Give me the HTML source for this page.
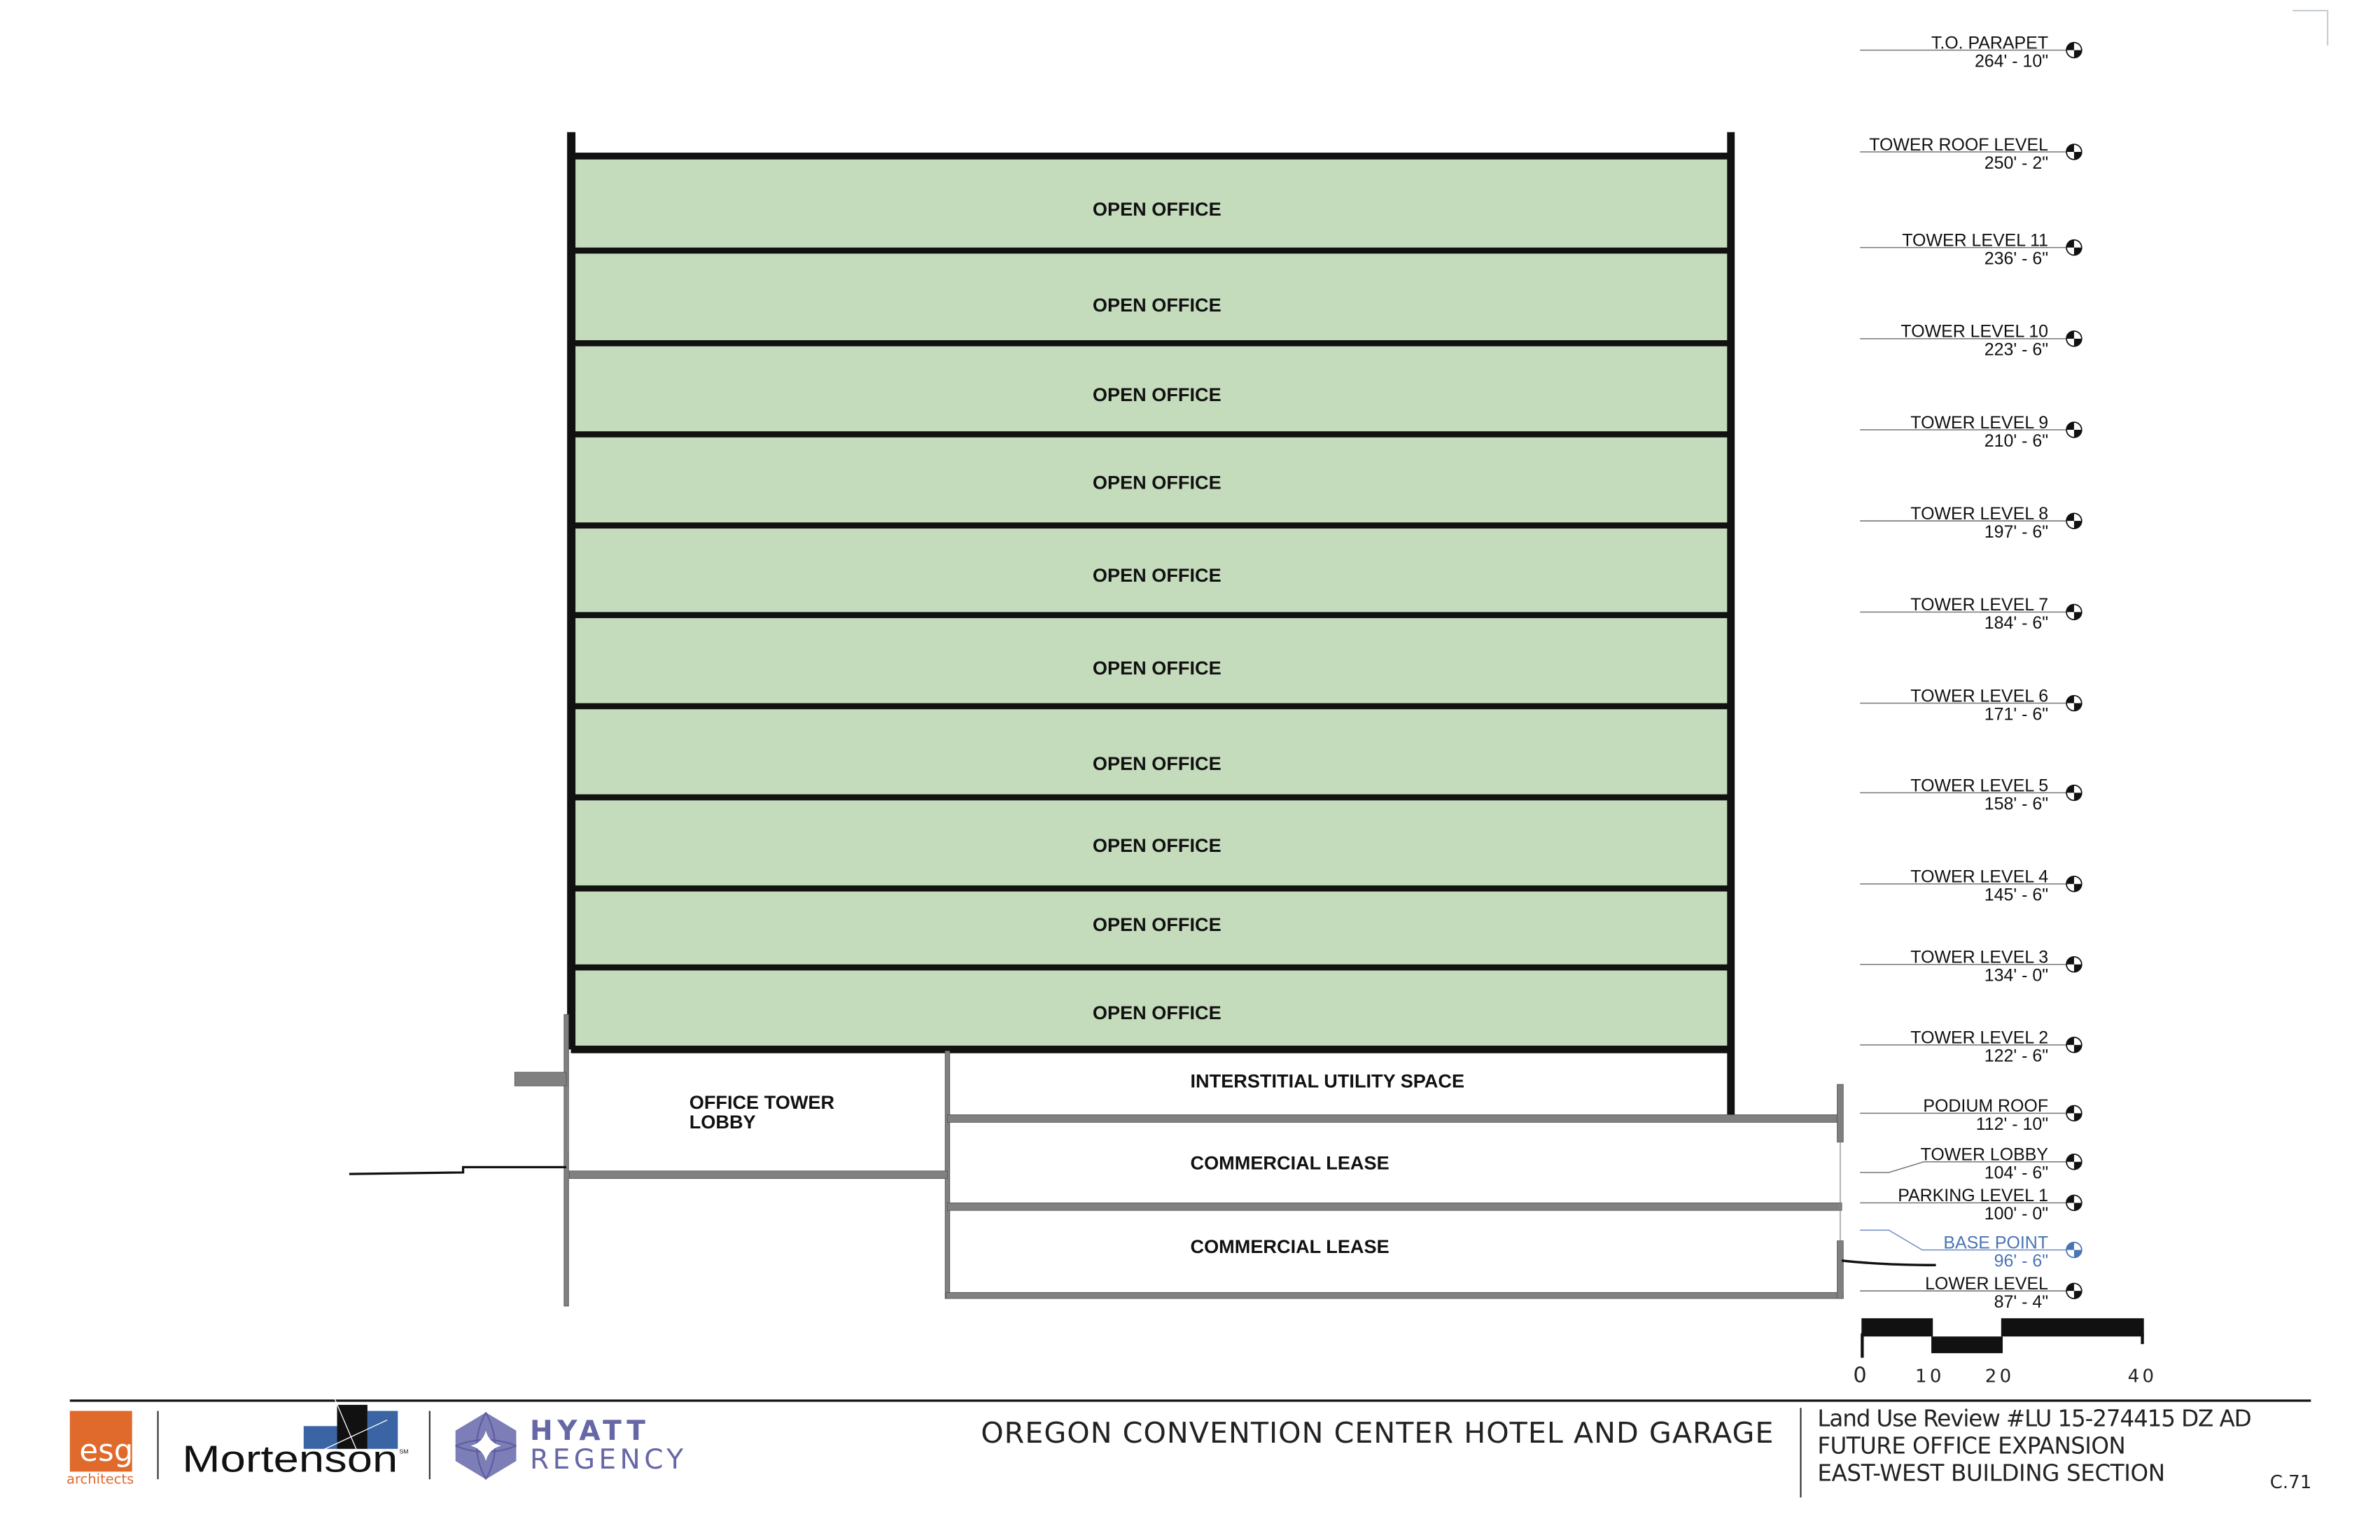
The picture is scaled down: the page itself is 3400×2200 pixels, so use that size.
<!DOCTYPE html>
<html><head><meta charset="utf-8"><style>
html,body{margin:0;padding:0;background:#fff;}
svg{display:block;}
.lbl{font-family:"Liberation Sans Narrow","Liberation Sans",sans-serif;font-weight:bold;font-size:12.5px;fill:#111;}
.lv{font-family:"Liberation Sans Narrow","Liberation Sans",sans-serif;font-size:11.5px;fill:#111;text-anchor:end;}
.tb{font-family:"DejaVu Sans","Liberation Sans",sans-serif;fill:#222;}
</style></head><body>
<svg width="3400" height="2200" viewBox="0 0 1567.5 1014" preserveAspectRatio="none" xmlns="http://www.w3.org/2000/svg">
<rect x="0" y="0" width="1567.5" height="1014" fill="#fff"/>
<path d="M1510 7 H1533 V30" fill="none" stroke="#c8ccd4" stroke-width="1"/>

<rect x="378" y="103" width="762" height="587" fill="#c5dcbc"/>
<g fill="#111">
<rect x="373.5" y="87" width="5.5" height="604"/>
<rect x="1137.5" y="87" width="5" height="648"/>
<rect x="376" y="100.5" width="765" height="4.5"/>
<rect x="376" y="163" width="765" height="4"/>
<rect x="376" y="224" width="765" height="4"/>
<rect x="376" y="284" width="765" height="4"/>
<rect x="376" y="344" width="765" height="4"/>
<rect x="376" y="403" width="765" height="4"/>
<rect x="376" y="463" width="765" height="4"/>
<rect x="376" y="523" width="765" height="4"/>
<rect x="376" y="583" width="765" height="4"/>
<rect x="376" y="635" width="765" height="4"/>
<rect x="376" y="688.5" width="765" height="5"/>
</g>
<g class="lbl" text-anchor="middle">
<text x="762" y="142">OPEN OFFICE</text>
<text x="762" y="205">OPEN OFFICE</text>
<text x="762" y="264">OPEN OFFICE</text>
<text x="762" y="322">OPEN OFFICE</text>
<text x="762" y="383">OPEN OFFICE</text>
<text x="762" y="444">OPEN OFFICE</text>
<text x="762" y="507">OPEN OFFICE</text>
<text x="762" y="561">OPEN OFFICE</text>
<text x="762" y="613">OPEN OFFICE</text>
<text x="762" y="671">OPEN OFFICE</text>
</g>

<g fill="#808080" stroke="#555" stroke-width="0.4">
<rect x="371.5" y="668" width="3" height="192"/>
<rect x="339" y="706" width="34" height="9"/>
<rect x="622.5" y="692" width="3" height="163"/>
<rect x="624" y="734" width="589" height="5"/>
<rect x="624" y="792" width="589" height="5"/>
<rect x="623" y="851" width="591" height="4"/>
<rect x="375" y="771" width="249" height="5"/>
<rect x="1210" y="714" width="4" height="38"/>
<rect x="1210" y="817" width="4" height="38"/>
</g>
<line x1="1212" y1="752" x2="1212" y2="817" stroke="#888" stroke-width="0.6"/>
<line x1="374" y1="715" x2="374" y2="760" stroke="#888" stroke-width="0.6"/>
<path d="M230 773 L305 772 L305 768.5 L373 768.5" fill="none" stroke="#111" stroke-width="1.5"/>
<path d="M1213 830 Q1240 833 1275 833" fill="none" stroke="#111" stroke-width="1.6"/>

<g class="lbl">
<text x="454" y="730">OFFICE TOWER</text>
<text x="454" y="743">LOBBY</text>
<text x="784" y="716">INTERSTITIAL UTILITY SPACE</text>
<text x="784" y="770">COMMERCIAL LEASE</text>
<text x="784" y="825">COMMERCIAL LEASE</text>
</g>

<defs>
<g id="mk">
<circle cx="0" cy="0" r="5" fill="#fff" stroke="#111" stroke-width="0.8"/>
<path d="M0 0 L0 -5 A5 5 0 0 0 -5 0 Z" fill="#111"/>
<path d="M0 0 L0 5 A5 5 0 0 0 5 0 Z" fill="#111"/>
</g>
<g id="mkb">
<circle cx="0" cy="0" r="5" fill="#fff" stroke="#4a74b4" stroke-width="0.8"/>
<path d="M0 0 L0 -5 A5 5 0 0 0 -5 0 Z" fill="#4a74b4"/>
<path d="M0 0 L0 5 A5 5 0 0 0 5 0 Z" fill="#4a74b4"/>
</g>
</defs>
<g stroke="#777" stroke-width="0.7" fill="none">
<line x1="1225" y1="33" x2="1361" y2="33"/>
<line x1="1225" y1="100" x2="1361" y2="100"/>
<line x1="1225" y1="163" x2="1361" y2="163"/>
<line x1="1225" y1="223" x2="1361" y2="223"/>
<line x1="1225" y1="283" x2="1361" y2="283"/>
<line x1="1225" y1="343" x2="1361" y2="343"/>
<line x1="1225" y1="403" x2="1361" y2="403"/>
<line x1="1225" y1="463" x2="1361" y2="463"/>
<line x1="1225" y1="522" x2="1361" y2="522"/>
<line x1="1225" y1="582" x2="1361" y2="582"/>
<line x1="1225" y1="635" x2="1361" y2="635"/>
<line x1="1225" y1="688" x2="1361" y2="688"/>
<line x1="1225" y1="733" x2="1361" y2="733"/>
<path d="M1225 772 L1244 772 L1267 765 L1361 765"/>
<line x1="1225" y1="792" x2="1361" y2="792"/>
<line x1="1225" y1="850" x2="1361" y2="850"/>
</g>
<path d="M1225 810 L1244 810 L1266 823 L1361 823" fill="none" stroke="#6d8fc4" stroke-width="0.7"/>
<g>
<use href="#mk" x="1366" y="33"/><use href="#mk" x="1366" y="100"/><use href="#mk" x="1366" y="163"/>
<use href="#mk" x="1366" y="223"/><use href="#mk" x="1366" y="283"/><use href="#mk" x="1366" y="343"/>
<use href="#mk" x="1366" y="403"/><use href="#mk" x="1366" y="463"/><use href="#mk" x="1366" y="522"/>
<use href="#mk" x="1366" y="582"/><use href="#mk" x="1366" y="635"/><use href="#mk" x="1366" y="688"/>
<use href="#mk" x="1366" y="733"/><use href="#mk" x="1366" y="765"/><use href="#mk" x="1366" y="792"/>
<use href="#mkb" x="1366" y="823"/><use href="#mk" x="1366" y="850"/>
</g>
<g class="lv">
<text x="1349" y="32">T.O. PARAPET</text><text x="1349" y="44">264' - 10"</text>
<text x="1349" y="99">TOWER ROOF LEVEL</text><text x="1349" y="111">250' - 2"</text>
<text x="1349" y="162">TOWER LEVEL 11</text><text x="1349" y="174">236' - 6"</text>
<text x="1349" y="222">TOWER LEVEL 10</text><text x="1349" y="234">223' - 6"</text>
<text x="1349" y="282">TOWER LEVEL 9</text><text x="1349" y="294">210' - 6"</text>
<text x="1349" y="342">TOWER LEVEL 8</text><text x="1349" y="354">197' - 6"</text>
<text x="1349" y="402">TOWER LEVEL 7</text><text x="1349" y="414">184' - 6"</text>
<text x="1349" y="462">TOWER LEVEL 6</text><text x="1349" y="474">171' - 6"</text>
<text x="1349" y="521">TOWER LEVEL 5</text><text x="1349" y="533">158' - 6"</text>
<text x="1349" y="581">TOWER LEVEL 4</text><text x="1349" y="593">145' - 6"</text>
<text x="1349" y="634">TOWER LEVEL 3</text><text x="1349" y="646">134' - 0"</text>
<text x="1349" y="687">TOWER LEVEL 2</text><text x="1349" y="699">122' - 6"</text>
<text x="1349" y="732">PODIUM ROOF</text><text x="1349" y="744">112' - 10"</text>
<text x="1349" y="764">TOWER LOBBY</text><text x="1349" y="776">104' - 6"</text>
<text x="1349" y="791">PARKING LEVEL 1</text><text x="1349" y="803">100' - 0"</text>
<text x="1349" y="822" style="fill:#4a74b4">BASE POINT</text><text x="1349" y="834" style="fill:#4a74b4">96' - 6"</text>
<text x="1349" y="849">LOWER LEVEL</text><text x="1349" y="861">87' - 4"</text>
</g>

<g fill="#111">
<rect x="1226" y="868" width="47" height="12"/>
<rect x="1272" y="880" width="47" height="11"/>
<rect x="1318" y="868" width="94" height="12"/>
<rect x="1225.5" y="878" width="2" height="16"/>
<rect x="1410" y="878" width="2" height="7"/>
</g>
<g class="tb" font-size="12" text-anchor="middle" letter-spacing="2">
<text x="1225" y="910" font-size="14" letter-spacing="0">0</text>
<text x="1271" y="910">10</text>
<text x="1317" y="910">20</text>
<text x="1411" y="910">40</text>
</g>

<rect x="46" y="921.5" width="1476" height="1.5" fill="#111"/>
<rect x="46" y="929" width="41" height="40" fill="#e06a2b"/>
<text x="70" y="962" class="tb" font-size="20" style="fill:#fff" text-anchor="middle">esg</text>
<text x="66" y="977" class="tb" font-size="9" style="fill:#e06a2b" text-anchor="middle">architects</text>
<rect x="103.5" y="929" width="1" height="45" fill="#333"/>
<rect x="200" y="939" width="22" height="15" fill="#3a64a4"/>
<rect x="222" y="925" width="20" height="29" fill="#111"/>
<rect x="242" y="929" width="20" height="25" fill="#3a64a4"/>
<path d="M212 955 L255 935 M220 920 L235 955" stroke="#fff" stroke-width="0.6"/>
<text x="120" y="969" font-size="25" font-family="Liberation Sans,sans-serif" fill="#111" textLength="142" lengthAdjust="spacingAndGlyphs">Mortenson</text>
<text x="263" y="957" font-size="4" font-family="Liberation Sans" fill="#111">SM</text>
<rect x="282.5" y="929" width="1" height="45" fill="#333"/>
<polygon points="320,930 340,942 340,962 320,974 300,962 300,942" fill="#7d7db7"/>
<path d="M320 930 Q308 952 320 974 M320 930 Q332 952 320 974 M300 952 Q320 944 340 952 M300 952 Q320 960 340 952" fill="none" stroke="#5d5ea0" stroke-width="1"/>
<path d="M320 942 Q322 950 330 952 Q322 954 320 962 Q318 954 310 952 Q318 950 320 942 Z" fill="#fff"/>
<text x="349" y="948" font-family="DejaVu Sans,Liberation Sans,sans-serif" font-size="18" font-weight="bold" fill="#6667a5" textLength="76">HYATT</text>
<text x="349" y="967" font-family="DejaVu Sans,Liberation Sans,sans-serif" font-size="18" fill="#6667a5" textLength="101">REGENCY</text>
<text x="646" y="950" class="tb" font-size="19" textLength="522">OREGON CONVENTION CENTER HOTEL AND GARAGE</text>
<rect x="1185.5" y="927" width="1" height="59" fill="#333"/>
<text x="1197" y="939" class="tb" font-size="15" textLength="286">Land Use Review #LU 15-274415 DZ AD</text>
<text x="1197" y="957" class="tb" font-size="15" textLength="203">FUTURE OFFICE EXPANSION</text>
<text x="1197" y="975" class="tb" font-size="15" textLength="229">EAST-WEST BUILDING SECTION</text>
<text x="1495" y="980" class="tb" font-size="12">C.71</text>
</svg>
</body></html>
